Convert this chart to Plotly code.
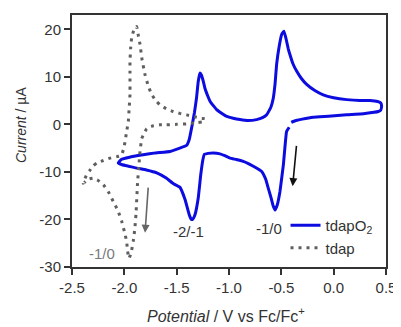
import plotly.graph_objects as go

# tdapO2 cyclic voltammogram (scan order)
tdapO2_potential = [
    -0.425, -0.45, -0.48, -0.513, -0.54, -0.56, -0.58, -0.60, -0.625, -0.65, -0.688, -0.73, -0.768,
    -0.82, -0.864, -0.93, -0.99, -1.04, -1.086, -1.15, -1.20, -1.235, -1.25, -1.27, -1.294, -1.325,
    -1.345, -1.36, -1.38, -1.42, -1.47, -1.53, -1.60, -1.69, -1.79, -1.882, -1.96, -2.02, -2.058,
    -2.03, -1.95, -1.82, -1.70, -1.564, -1.47, -1.404, -1.38, -1.355, -1.33, -1.31, -1.294, -1.277,
    -1.262, -1.245, -1.23, -1.20, -1.18, -1.118, -1.06, -1.022, -0.96, -0.895, -0.82, -0.736, -0.68,
    -0.64, -0.60, -0.577, -0.56, -0.545, -0.52, -0.497, -0.475, -0.455, -0.435, -0.418, -0.39, -0.354,
    -0.31, -0.258, -0.18, -0.10, 0.0, 0.124, 0.25, 0.346, 0.42, 0.45, 0.458, 0.45, 0.426, 0.30, 0.124,
    -0.05, -0.195, -0.30, -0.36, -0.386, -0.405,
]
tdapO2_current = [
    -0.6, -1.5, -8.4, -14.1, -17.0, -18.0, -17.0, -15.3, -13.4, -11.5, -9.9, -9.3, -8.8,
    -8.2, -7.8, -7.4, -7.1, -6.6, -6.2, -6.0, -6.1, -6.3, -7.5, -10.6, -15.5, -19.0,
    -19.9, -20.0, -19.0, -15.8, -13.2, -12.5, -11.3, -10.2, -9.6, -9.2, -8.8, -8.5, -8.1,
    -7.4, -6.9, -6.4, -6.0, -5.7, -5.0, -4.4, -3.2, -0.5, 2.5, 5.6, 9.0, 10.8,
    10.3, 9.0, 7.6, 5.8, 4.8, 3.1, 2.2, 1.7, 1.3, 1.0, 0.8, 1.0, 1.4,
    2.0, 3.6, 5.5, 8.5, 12.6, 16.5, 18.9, 19.6, 18.0, 16.0, 14.7, 12.8, 11.2,
    9.7, 8.4, 7.1, 6.2, 5.6, 5.2, 5.0, 5.0, 4.8, 4.5, 3.8, 3.0, 2.7, 2.3, 2.0,
    1.7, 1.5, 1.1, 0.8, 0.6, 0.4,
]

# tdap cyclic voltammogram (scan order)
tdap_potential = [
    -1.26, -1.33, -1.405, -1.50, -1.60, -1.66, -1.72, -1.76, -1.787, -1.81, -1.834, -1.85, -1.862,
    -1.873, -1.889, -1.90, -1.915, -1.935, -1.956, -1.97, -1.978, -2.00, -2.025, -2.06, -2.106,
    -2.15, -2.20, -2.25, -2.297, -2.34, -2.37, -2.392,
    -2.38, -2.36, -2.33, -2.30, -2.264, -2.20, -2.137, -2.07, -2.025, -2.00, -1.978, -1.962,
    -1.955, -1.946, -1.946, -1.946, -1.94, -1.93, -1.91, -1.882, -1.865, -1.85, -1.83, -1.803,
    -1.77, -1.739, -1.70, -1.66, -1.60, -1.532, -1.47, -1.405, -1.33, -1.26, -1.23,
]
tdap_current = [
    0.5, 0.3, 0.1, 0.0, -0.1, -0.1, -0.3, -0.5, -0.9, -1.8, -3.0, -5.7, -9.0,
    -12.0, -19.0, -22.0, -24.6, -27.0, -28.2, -26.5, -24.6, -22.5, -20.4, -18.2, -16.2,
    -14.3, -12.7, -11.8, -11.3, -11.5, -12.0, -12.4,
    -11.6, -10.6, -9.7, -8.8, -8.1, -7.6, -7.1, -6.8, -6.4, -4.5, -1.5, 0.6,
    3.0, 6.3, 10.0, 13.3, 16.0, 18.2, 19.8, 20.6, 18.5, 16.8, 13.5, 10.5,
    8.0, 6.3, 5.0, 4.1, 3.3, 2.7, 2.3, 2.0, 1.6, 1.3, 1.2,
]

x_ticks = [-2.5, -2.0, -1.5, -1.0, -0.5, 0.0, 0.5]
y_ticks = [-30, -20, -10, 0, 10, 20]

# peak labels: (text, potential, current, colour)
peak_labels = [
    ("-2/-1", -1.39, -22.6, "#333333"),
    ("-1/0", -0.62, -21.8, "#333333"),
    ("-1/0", -2.21, -27.1, "#7a7a7a"),
]
# scan-direction arrows: (tail x, tail y, head x, head y, colour)
scan_arrows = [
    (-1.771, -13.0, -1.802, -22.8, "#666666"),
    (-0.354, -4.2, -0.392, -13.0, "#111111"),
]

FONT = "Liberation Sans, Arial, sans-serif"
# the page body adds an 8 px offset; figure is sized to fit the remaining window
OFF = 8
W, H = 401 - OFF, 327 - OFF
L, T = 72 - OFF, 15 - OFF
PW, PH = 314, 252
R, B = W - L - PW, H - T - PH

fig = go.Figure()
fig.add_trace(go.Scatter(
    x=tdapO2_potential, y=tdapO2_current, mode="lines", name="tdapO<sub>2</sub>",
    line=dict(color="#0c0ce0", width=3, shape="spline", smoothing=0.3),
))
fig.add_trace(go.Scatter(
    x=tdap_potential, y=tdap_current, mode="lines", name="tdap",
    line=dict(color="#5f5f5f", width=3, dash="3px,5px", shape="spline", smoothing=0.3),
))

annotations = []
for txt, xv, yv, col in peak_labels:
    annotations.append(dict(x=xv, y=yv, xref="x", yref="y", text=txt, showarrow=False,
                            font=dict(family=FONT, size=15, color=col)))
for x0, y0, x1, y1, col in scan_arrows:
    annotations.append(dict(x=x1, y=y1, ax=x0, ay=y0, xref="x", yref="y", axref="x", ayref="y",
                            text="", showarrow=True, arrowhead=2, arrowsize=1, arrowwidth=1.6,
                            arrowcolor=col))
# axis titles (positions in screen pixels of the reference)
annotations.append(dict(x=(226 - 72) / PW, y=-(315 - 267) / PH, xref="paper", yref="paper",
                        text="<i>Potential</i> / V vs Fc/Fc<sup>+</sup>", showarrow=False,
                        font=dict(family=FONT, size=16, color="#333333"),
                        xanchor="center", yanchor="middle"))
annotations.append(dict(x=-(72 - 21) / PW, y=(267 - 125) / PH, xref="paper", yref="paper",
                        text="<i>Current</i> / µA", showarrow=False, textangle=-90,
                        font=dict(family=FONT, size=14, color="#333333"),
                        xanchor="center", yanchor="middle"))

fig.update_layout(
    width=W, height=H,
    margin=dict(l=L, r=R, t=T, b=B, autoexpand=False),
    paper_bgcolor="white", plot_bgcolor="white",
    font=dict(family=FONT, size=14, color="#333333"),
    showlegend=True,
    legend=dict(x=0.68, y=0.23, xanchor="left", yanchor="top", bgcolor="rgba(0,0,0,0)",
                font=dict(family=FONT, size=15, color="#333333"), tracegroupgap=0,
                itemwidth=30),
    annotations=annotations,
)
fig.update_xaxes(
    range=[-2.5, 0.5], tickvals=x_ticks, ticktext=[f"{v:.1f}" for v in x_ticks],
    showgrid=False, zeroline=False, showline=True, linecolor="#333333", linewidth=2,
    mirror=True, ticks="outside", ticklen=6, tickwidth=2, tickcolor="#333333",
    tickfont=dict(family=FONT, size=15, color="#333333"), automargin=False,
)
fig.update_yaxes(
    range=[-30, 23], tickvals=y_ticks, ticktext=[str(v) for v in y_ticks],
    showgrid=False, zeroline=False, showline=True, linecolor="#333333", linewidth=2,
    mirror=True, ticks="outside", ticklen=6, tickwidth=2, tickcolor="#333333",
    tickfont=dict(family=FONT, size=15, color="#333333"), automargin=False,
)

fig.write_html("out.html")
